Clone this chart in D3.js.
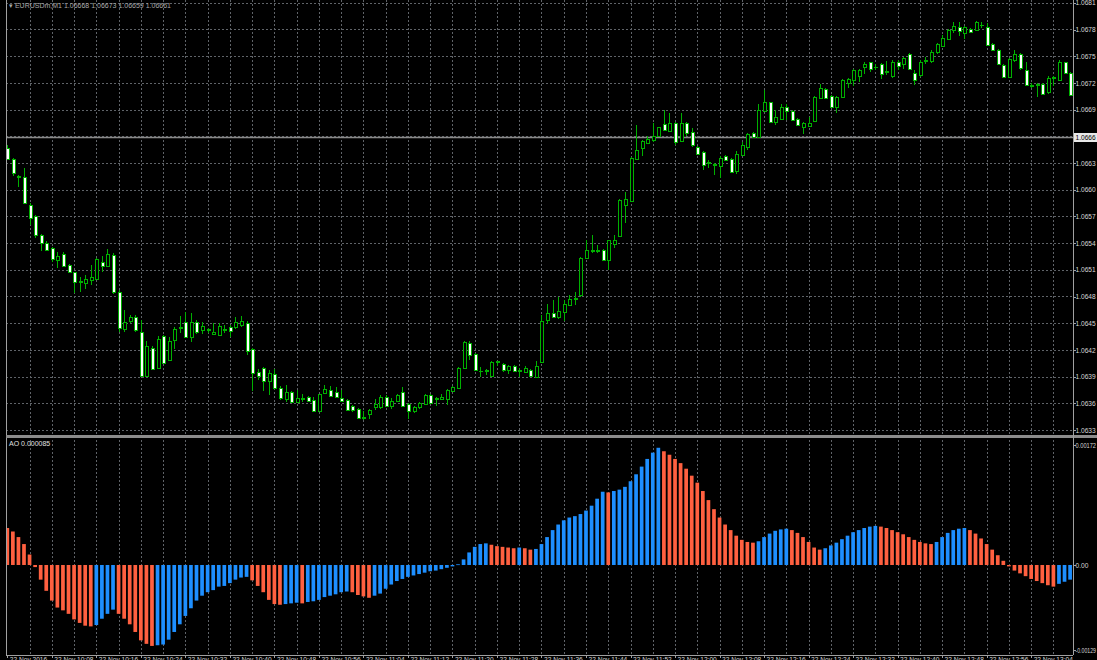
<!DOCTYPE html>
<html><head><meta charset="utf-8">
<script src="https://cdn.jsdelivr.net/npm/d3@7"></script>
<style>html,body{margin:0;padding:0;background:#000;overflow:hidden}</style>
</head><body>
<svg id="chart" width="1097" height="660"></svg>
<script>
// ---------- DATA ----------
const opens = [1.06647,1.06634,1.06614,1.06614,1.06583,1.06570,1.06549,1.06540,1.06534,1.06522,1.06528,1.06515,1.06507,1.06497,1.06496,1.06499,1.06499,1.06519,1.06514,1.06527,1.06485,1.06443,1.06452,1.06457,1.06440,1.06390,1.06422,1.06399,1.06436,1.06409,1.06431,1.06445,1.06451,1.06434,1.06451,1.06443,1.06442,1.06438,1.06437,1.06443,1.06446,1.06445,1.06447,1.06450,1.06421,1.06395,1.06400,1.06385,1.06393,1.06377,1.06365,1.06373,1.06362,1.06365,1.06367,1.06364,1.06351,1.06371,1.06375,1.06373,1.06366,1.06364,1.06357,1.06354,1.06345,1.06348,1.06356,1.06356,1.06367,1.06357,1.06362,1.06373,1.06359,1.06351,1.06356,1.06359,1.06369,1.06366,1.06365,1.06365,1.06374,1.06377,1.06400,1.06428,1.06415,1.06396,1.06396,1.06390,1.06406,1.06404,1.06397,1.06402,1.06396,1.06396,1.06397,1.06390,1.06407,1.06454,1.06462,1.06457,1.06463,1.06470,1.06477,1.06481,1.06523,1.06531,1.06531,1.06532,1.06520,1.06540,1.06548,1.06583,1.06588,1.06635,1.06647,1.06652,1.06655,1.06660,1.06674,1.06666,1.06675,1.06655,1.06675,1.06665,1.06648,1.06642,1.06630,1.06629,1.06627,1.06638,1.06635,1.06621,1.06639,1.06648,1.06664,1.06660,1.06689,1.06698,1.06676,1.06680,1.06693,1.06688,1.06680,1.06671,1.06672,1.06677,1.06703,1.06713,1.06705,1.06693,1.06704,1.06720,1.06724,1.06728,1.06738,1.06743,1.06738,1.06741,1.06733,1.06727,1.06744,1.06741,1.06753,1.06731,1.06728,1.06745,1.06745,1.06755,1.06762,1.06769,1.06780,1.06783,1.06776,1.06781,1.06779,1.06785,1.06783,1.06764,1.06757,1.06740,1.06727,1.06746,1.06752,1.06735,1.06718,1.06718,1.06719,1.06709,1.06726,1.06724,1.06743,1.06731];
const highs = [1.06650,1.06636,1.06617,1.06624,1.06585,1.06572,1.06550,1.06542,1.06536,1.06530,1.06530,1.06517,1.06508,1.06502,1.06504,1.06515,1.06523,1.06525,1.06533,1.06529,1.06487,1.06465,1.06459,1.06459,1.06454,1.06430,1.06424,1.06436,1.06437,1.06435,1.06446,1.06458,1.06463,1.06462,1.06454,1.06451,1.06445,1.06450,1.06450,1.06448,1.06448,1.06457,1.06458,1.06452,1.06422,1.06399,1.06401,1.06397,1.06399,1.06379,1.06381,1.06374,1.06375,1.06370,1.06368,1.06367,1.06371,1.06381,1.06379,1.06378,1.06375,1.06365,1.06358,1.06355,1.06351,1.06354,1.06365,1.06369,1.06369,1.06366,1.06370,1.06378,1.06360,1.06357,1.06362,1.06370,1.06370,1.06367,1.06371,1.06376,1.06379,1.06401,1.06430,1.06430,1.06417,1.06401,1.06398,1.06408,1.06408,1.06405,1.06403,1.06403,1.06400,1.06402,1.06398,1.06408,1.06459,1.06472,1.06476,1.06480,1.06476,1.06482,1.06485,1.06524,1.06543,1.06549,1.06538,1.06533,1.06544,1.06549,1.06589,1.06597,1.06637,1.06673,1.06656,1.06660,1.06675,1.06671,1.06690,1.06686,1.06676,1.06686,1.06676,1.06669,1.06649,1.06643,1.06633,1.06630,1.06638,1.06639,1.06636,1.06643,1.06654,1.06664,1.06665,1.06696,1.06712,1.06699,1.06690,1.06696,1.06696,1.06690,1.06681,1.06676,1.06682,1.06705,1.06719,1.06714,1.06706,1.06705,1.06724,1.06725,1.06736,1.06736,1.06744,1.06744,1.06741,1.06742,1.06745,1.06746,1.06746,1.06749,1.06754,1.06734,1.06746,1.06749,1.06757,1.06765,1.06774,1.06781,1.06788,1.06788,1.06784,1.06782,1.06789,1.06788,1.06787,1.06765,1.06758,1.06741,1.06748,1.06757,1.06754,1.06744,1.06720,1.06720,1.06720,1.06728,1.06728,1.06746,1.06744,1.06732];
const lows = [1.06634,1.06615,1.06603,1.06584,1.06560,1.06546,1.06531,1.06531,1.06519,1.06512,1.06513,1.06506,1.06484,1.06485,1.06488,1.06493,1.06498,1.06508,1.06513,1.06483,1.06440,1.06440,1.06450,1.06440,1.06389,1.06389,1.06397,1.06398,1.06405,1.06408,1.06421,1.06439,1.06433,1.06429,1.06438,1.06438,1.06439,1.06437,1.06436,1.06439,1.06435,1.06444,1.06446,1.06414,1.06374,1.06386,1.06374,1.06369,1.06376,1.06364,1.06361,1.06361,1.06361,1.06362,1.06362,1.06351,1.06350,1.06370,1.06367,1.06366,1.06361,1.06351,1.06350,1.06343,1.06341,1.06342,1.06352,1.06354,1.06356,1.06354,1.06361,1.06356,1.06342,1.06349,1.06354,1.06358,1.06359,1.06357,1.06364,1.06358,1.06373,1.06376,1.06399,1.06409,1.06396,1.06389,1.06392,1.06389,1.06402,1.06395,1.06393,1.06395,1.06389,1.06395,1.06389,1.06389,1.06406,1.06449,1.06456,1.06455,1.06453,1.06469,1.06470,1.06480,1.06522,1.06529,1.06529,1.06520,1.06510,1.06534,1.06547,1.06563,1.06587,1.06634,1.06638,1.06651,1.06654,1.06659,1.06666,1.06665,1.06650,1.06654,1.06660,1.06648,1.06639,1.06622,1.06624,1.06617,1.06613,1.06632,1.06619,1.06618,1.06638,1.06645,1.06658,1.06659,1.06688,1.06675,1.06673,1.06679,1.06678,1.06677,1.06672,1.06663,1.06671,1.06676,1.06702,1.06702,1.06692,1.06686,1.06703,1.06714,1.06717,1.06721,1.06730,1.06732,1.06735,1.06724,1.06729,1.06726,1.06735,1.06736,1.06735,1.06718,1.06727,1.06741,1.06742,1.06753,1.06761,1.06768,1.06776,1.06773,1.06769,1.06776,1.06778,1.06782,1.06762,1.06756,1.06740,1.06726,1.06726,1.06744,1.06735,1.06717,1.06714,1.06704,1.06706,1.06708,1.06716,1.06723,1.06730,1.06705];
const closes = [1.06635,1.06618,1.06615,1.06585,1.06568,1.06549,1.06540,1.06532,1.06522,1.06526,1.06515,1.06507,1.06496,1.06496,1.06500,1.06502,1.06522,1.06514,1.06528,1.06485,1.06444,1.06451,1.06457,1.06442,1.06390,1.06424,1.06398,1.06432,1.06406,1.06430,1.06443,1.06446,1.06434,1.06451,1.06440,1.06447,1.06443,1.06440,1.06447,1.06444,1.06442,1.06451,1.06452,1.06418,1.06394,1.06391,1.06385,1.06394,1.06377,1.06366,1.06373,1.06362,1.06366,1.06366,1.06363,1.06352,1.06370,1.06376,1.06368,1.06367,1.06363,1.06353,1.06352,1.06344,1.06344,1.06352,1.06359,1.06367,1.06357,1.06363,1.06369,1.06357,1.06351,1.06356,1.06360,1.06369,1.06360,1.06365,1.06367,1.06375,1.06378,1.06400,1.06429,1.06415,1.06397,1.06396,1.06397,1.06406,1.06407,1.06397,1.06402,1.06396,1.06397,1.06400,1.06390,1.06402,1.06453,1.06462,1.06457,1.06464,1.06472,1.06477,1.06478,1.06523,1.06532,1.06532,1.06532,1.06521,1.06543,1.06544,1.06588,1.06590,1.06636,1.06645,1.06655,1.06657,1.06660,1.06670,1.06667,1.06675,1.06654,1.06675,1.06664,1.06650,1.06640,1.06627,1.06631,1.06628,1.06636,1.06633,1.06620,1.06640,1.06650,1.06663,1.06659,1.06690,1.06699,1.06676,1.06682,1.06693,1.06688,1.06678,1.06673,1.06675,1.06675,1.06704,1.06714,1.06703,1.06693,1.06704,1.06723,1.06724,1.06735,1.06735,1.06741,1.06735,1.06738,1.06730,1.06732,1.06743,1.06740,1.06748,1.06736,1.06723,1.06743,1.06746,1.06755,1.06764,1.06771,1.06779,1.06784,1.06778,1.06783,1.06778,1.06788,1.06785,1.06763,1.06757,1.06741,1.06727,1.06747,1.06753,1.06736,1.06718,1.06717,1.06719,1.06708,1.06725,1.06727,1.06744,1.06731,1.06706];
const aoValues = [0.00053,0.00048,0.00040,0.00030,0.00015,-0.00003,-0.00021,-0.00037,-0.00051,-0.00061,-0.00065,-0.00070,-0.00078,-0.00083,-0.00087,-0.00088,-0.00086,-0.00077,-0.00070,-0.00064,-0.00070,-0.00077,-0.00085,-0.00096,-0.00108,-0.00113,-0.00116,-0.00115,-0.00114,-0.00107,-0.00096,-0.00085,-0.00073,-0.00062,-0.00051,-0.00044,-0.00039,-0.00036,-0.00031,-0.00030,-0.00026,-0.00021,-0.00018,-0.00017,-0.00022,-0.00030,-0.00039,-0.00050,-0.00056,-0.00057,-0.00056,-0.00055,-0.00054,-0.00055,-0.00053,-0.00052,-0.00050,-0.00046,-0.00044,-0.00042,-0.00039,-0.00038,-0.00039,-0.00043,-0.00045,-0.00047,-0.00044,-0.00041,-0.00034,-0.00028,-0.00023,-0.00020,-0.00017,-0.00015,-0.00013,-0.00011,-0.00009,-0.00008,-0.00006,-0.00004,-0.00002,0.00001,0.00008,0.00018,0.00026,0.00030,0.00031,0.00029,0.00027,0.00026,0.00025,0.00024,0.00025,0.00024,0.00022,0.00023,0.00030,0.00040,0.00050,0.00058,0.00064,0.00068,0.00070,0.00073,0.00078,0.00085,0.00095,0.00105,0.00104,0.00106,0.00108,0.00112,0.00120,0.00130,0.00141,0.00152,0.00161,0.00168,0.00163,0.00158,0.00152,0.00146,0.00138,0.00128,0.00118,0.00106,0.00093,0.00080,0.00068,0.00058,0.00050,0.00042,0.00036,0.00033,0.00032,0.00034,0.00040,0.00045,0.00049,0.00051,0.00052,0.00050,0.00046,0.00040,0.00033,0.00025,0.00022,0.00024,0.00028,0.00032,0.00037,0.00042,0.00047,0.00050,0.00053,0.00055,0.00056,0.00055,0.00053,0.00050,0.00047,0.00044,0.00040,0.00036,0.00033,0.00031,0.00030,0.00033,0.00040,0.00046,0.00050,0.00052,0.00053,0.00050,0.00045,0.00038,0.00030,0.00022,0.00014,0.00006,-0.00002,-0.00008,-0.00012,-0.00016,-0.00020,-0.00023,-0.00026,-0.00029,-0.00031,-0.00027,-0.00024,-0.00021];
const priceTicks = [1.0633,1.0636,1.0639,1.0642,1.0645,1.0648,1.0651,1.0654,1.0657,1.0660,1.0663,1.0666,1.0669,1.0672,1.0675,1.0678,1.0681];
const aoTicks = [0.00172, 0, -0.00122];
const aoTickLabels = ["0.00172", "0.00", "-0.00129"];
const timeLabels = ["22 Nov 2016","22 Nov 10:08","22 Nov 10:16","22 Nov 10:24","22 Nov 10:32","22 Nov 10:40","22 Nov 10:48","22 Nov 10:56","22 Nov 11:04","22 Nov 11:12","22 Nov 11:20","22 Nov 11:28","22 Nov 11:36","22 Nov 11:44","22 Nov 11:52","22 Nov 12:00","22 Nov 12:08","22 Nov 12:16","22 Nov 12:24","22 Nov 12:32","22 Nov 12:40","22 Nov 12:48","22 Nov 12:56","22 Nov 13:04"];
const markerPrice = 1.06659;
const headerText = "\u25BE EURUSDm,M1  1.06668 1.06673 1.06659 1.06661";
const aoLabel = "AO 0.000085";

// ---------- LAYOUT ----------
const svg = d3.select("#chart");
const L = 6, R = 1073;
const pTop = 0, pBot = 435, aTop = 438, aBot = 655;
const n = opens.length;
const x = d3.scaleLinear().domain([0, n - 1]).range([7.3, 1070.1]);
const y = d3.scaleLinear().domain([1.0633, 1.0681]).range([430, 2.8]);
const ya = d3.scaleLinear().domain([-0.0013, 0.00182]).range([655.7, 438]);
const font = "'Liberation Sans', Arial, sans-serif";
const green = "#00b000";
const gridCol = "#5f6368";

svg.append("rect").attr("width", 1097).attr("height", 660).attr("fill", "#000");

const defs = svg.append("defs");
defs.append("clipPath").attr("id", "cp").append("rect").attr("x", L).attr("y", pTop).attr("width", R - L).attr("height", pBot - pTop);
defs.append("clipPath").attr("id", "ca").append("rect").attr("x", L).attr("y", aTop).attr("width", R - L).attr("height", aBot - aTop);

// vertical grid (every 4 bars)
const gridIdx = d3.range(4, n, 4);
const vg = svg.append("g").attr("shape-rendering", "crispEdges");
vg.selectAll("line.v").data(gridIdx).join("line")
  .attr("x1", d => Math.round(x(d)) + 0.5).attr("x2", d => Math.round(x(d)) + 0.5)
  .attr("y1", 0).attr("y2", aBot)
  .attr("stroke", gridCol).attr("stroke-dasharray", "2,2");
// horizontal grid (price)
vg.selectAll("line.h").data(priceTicks).join("line")
  .attr("x1", L).attr("x2", R)
  .attr("y1", d => Math.round(y(d)) + 0.5).attr("y2", d => Math.round(y(d)) + 0.5)
  .attr("stroke", gridCol).attr("stroke-dasharray", "2,2");

// header
svg.append("text").attr("x", 9).attr("y", 7.5).attr("fill", "#a8a8a8")
  .attr("font-family", font).attr("font-size", 7).text(headerText);

// marker price line
const my = Math.round(y(markerPrice)) + 0.5;
svg.append("line").attr("x1", L).attr("x2", R).attr("y1", my).attr("y2", my)
  .attr("stroke", "#8a8a8a").attr("stroke-width", 1.5);

// candles
const cg = svg.append("g").attr("clip-path", "url(#cp)");
const idx = d3.range(n);
cg.selectAll("line.wick").data(idx).join("line")
  .attr("shape-rendering", "crispEdges")
  .attr("x1", i => Math.round(x(i)) + 0.5).attr("x2", i => Math.round(x(i)) + 0.5)
  .attr("y1", i => y(highs[i])).attr("y2", i => y(lows[i]))
  .attr("stroke", green).attr("stroke-width", 1);
cg.selectAll("rect.body").data(idx).join("rect")
  .attr("shape-rendering", "crispEdges")
  .attr("x", i => Math.round(x(i)) - 1)
  .attr("width", 3)
  .attr("y", i => Math.round(y(Math.max(opens[i], closes[i]))) + 0.5)
  .attr("height", i => Math.max(0.01, Math.round(Math.abs(y(opens[i]) - y(closes[i])))))
  .attr("fill", i => closes[i] < opens[i] ? "#ffffff" : "#000000")
  .attr("stroke", green).attr("stroke-width", 1);

// AO bars
const ag = svg.append("g").attr("clip-path", "url(#ca)");
ag.selectAll("rect").data(idx).join("rect")
  .attr("x", i => x(i) - 1.85).attr("width", 3.7)
  .attr("y", i => Math.min(ya(aoValues[i]), ya(0)))
  .attr("height", i => Math.max(0.8, Math.abs(ya(aoValues[i]) - ya(0))))
  .attr("fill", i => (i > 0 && aoValues[i] > aoValues[i - 1]) ? "#1e8fff" : "#ff6040");

svg.append("text").attr("x", 9).attr("y", 445.5).attr("fill", "#e0e0e0")
  .attr("font-family", font).attr("font-size", 7).text(aoLabel);

// frame lines
const fg = svg.append("g").attr("shape-rendering", "crispEdges");
fg.append("line").attr("x1", L + 0.5).attr("x2", L + 0.5).attr("y1", 0).attr("y2", aBot).attr("stroke", "#a0a0a0");
fg.append("rect").attr("x", L).attr("y", 435).attr("width", 1097 - L).attr("height", 2.5).attr("fill", "#8c8c8c");

// price axis
const pAxis = svg.append("g").attr("transform", `translate(${R + 0.5},0)`)
  .call(d3.axisRight(y).tickValues(priceTicks).tickSize(2).tickPadding(0).tickFormat(d3.format(".4f")));
// AO axis
const aAxis = svg.append("g").attr("transform", `translate(${R + 0.5},0)`)
  .call(d3.axisRight(ya).tickValues(aoTicks).tickSize(2).tickPadding(0).tickFormat((d, i) => aoTickLabels[i]));
// time axis
const tIdx = d3.range(0, n, 8);
const tAxis = svg.append("g").attr("transform", `translate(0,${aBot + 0.5})`)
  .call(d3.axisBottom(x).tickValues(tIdx).tickSize(2).tickPadding(0).tickFormat((d, i) => timeLabels[i]));
tAxis.selectAll("text").attr("text-anchor", "start").attr("dx", 2);

[pAxis, aAxis, tAxis].forEach(g => {
  g.selectAll(".domain").attr("stroke", "#a0a0a0").attr("shape-rendering", "crispEdges");
  g.selectAll(".tick line").attr("stroke", "#a0a0a0").attr("shape-rendering", "crispEdges");
  g.selectAll("text").attr("fill", "#d6d6d6").attr("font-family", font).attr("font-size", 6.6);
});
// AO labels: fit inside the remaining width at the right edge
aAxis.selectAll("text").attr("font-size", 6.6)
  .attr("textLength", function () { const w = this.getComputedTextLength(); return Math.min(w, 20.5); })
  .attr("lengthAdjust", "spacingAndGlyphs");
pAxis.select(".domain").attr("d", `M0,0V${aBot}`);
aAxis.select(".domain").remove();
tAxis.select(".domain").attr("d", `M${L},0H${R}`);

// marker label
const lb = svg.append("g").attr("transform", `translate(${R + 1},${my})`);
lb.append("rect").attr("x", 0).attr("y", -4.5).attr("width", 24).attr("height", 9).attr("fill", "#e8e8e8");
lb.append("text").attr("x", 1.5).attr("y", 0).attr("dy", "0.35em").attr("fill", "#000")
  .attr("font-family", font).attr("font-size", 6.6).text(d3.format(".4f")(markerPrice));
</script>
</body></html>
